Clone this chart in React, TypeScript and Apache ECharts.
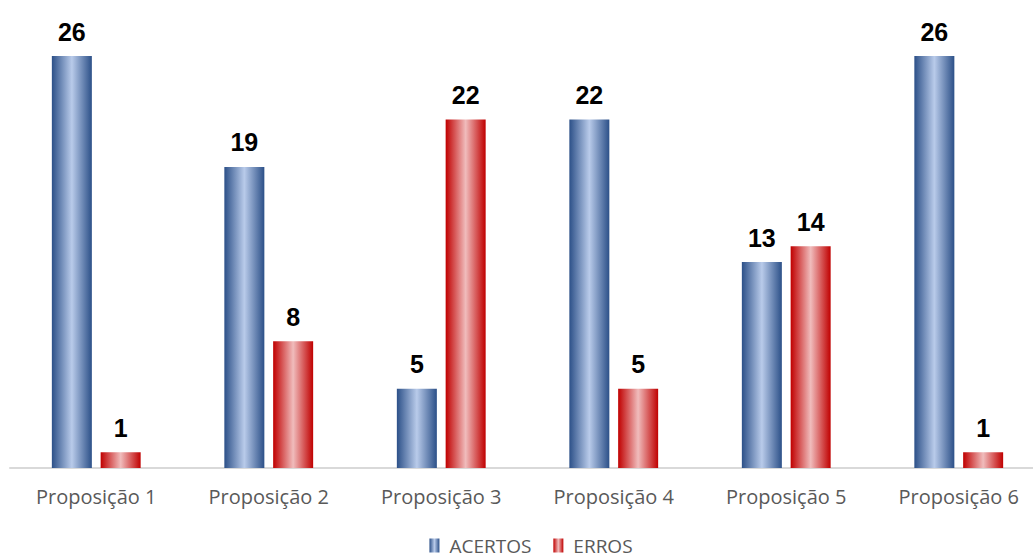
import React, { useEffect, useRef } from "react";
import * as echarts from "echarts";

const categories = ["Proposição 1", "Proposição 2", "Proposição 3", "Proposição 4", "Proposição 5", "Proposição 6"];
const acertos = [26, 19, 5, 22, 13, 26];
const erros = [1, 8, 22, 5, 14, 1];

const blueGrad = new echarts.graphic.LinearGradient(0, 0, 1, 0, [
  { offset: 0, color: "#2C5088" },
  { offset: 0.5, color: "#B9CBEA" },
  { offset: 1, color: "#2C5088" },
]);
const redGrad = new echarts.graphic.LinearGradient(0, 0, 1, 0, [
  { offset: 0, color: "#C00000" },
  { offset: 0.5, color: "#F0BCBC" },
  { offset: 1, color: "#C00000" },
]);

export default function App() {
  const ref = useRef<HTMLDivElement>(null);
  useEffect(() => {
    const chart = echarts.init(ref.current!, null, { renderer: "svg" });
    const label = {
      show: true,
      position: "top" as const,
      distance: 12,
      fontFamily: "Liberation Sans, Arial, sans-serif",
      fontWeight: "bold" as const,
      fontSize: 25,
      color: "#000",
    };
    chart.setOption({
      animation: false,
      grid: { left: 10, width: 1035, top: 56, bottom: 92, containLabel: false },
      legend: {
        bottom: 0,
        left: "center",
        icon: "rect",
        itemWidth: 10,
        itemHeight: 14,
        itemGap: 22,
        textStyle: {
          fontSize: 19,
          lineHeight: 19,
          color: "#595959",
          fontFamily: "Open Sans, sans-serif",
          padding: [0, 0, 0, 5],
        },
        data: ["ACERTOS", "ERROS"],
      },
      xAxis: {
        type: "category",
        data: categories,
        axisLine: { lineStyle: { color: "#D9D9D9", width: 2 } },
        axisTick: { show: false },
        axisLabel: {
          fontSize: 20,
          color: "#595959",
          margin: 18,
          fontFamily: "Open Sans, sans-serif",
        },
      },
      yAxis: { type: "value", min: 0, max: 26, show: false, splitLine: { show: false } },
      series: [
        {
          name: "ACERTOS",
          type: "bar",
          data: acertos,
          barWidth: 40,
          barGap: "22%",
          itemStyle: { color: blueGrad },
          label,
        },
        {
          name: "ERROS",
          type: "bar",
          data: erros,
          barWidth: 40,
          itemStyle: { color: redGrad },
          label,
        },
      ],
    });
    return () => chart.dispose();
  }, []);
  return (
    <div
      style={{
        position: "fixed",
        left: 0,
        top: 0,
        width: 1033,
        height: 560,
        overflow: "hidden",
        background: "#fff",
      }}
    >
      <div ref={ref} style={{ width: 1062, height: 560 }} />
    </div>
  );
}
